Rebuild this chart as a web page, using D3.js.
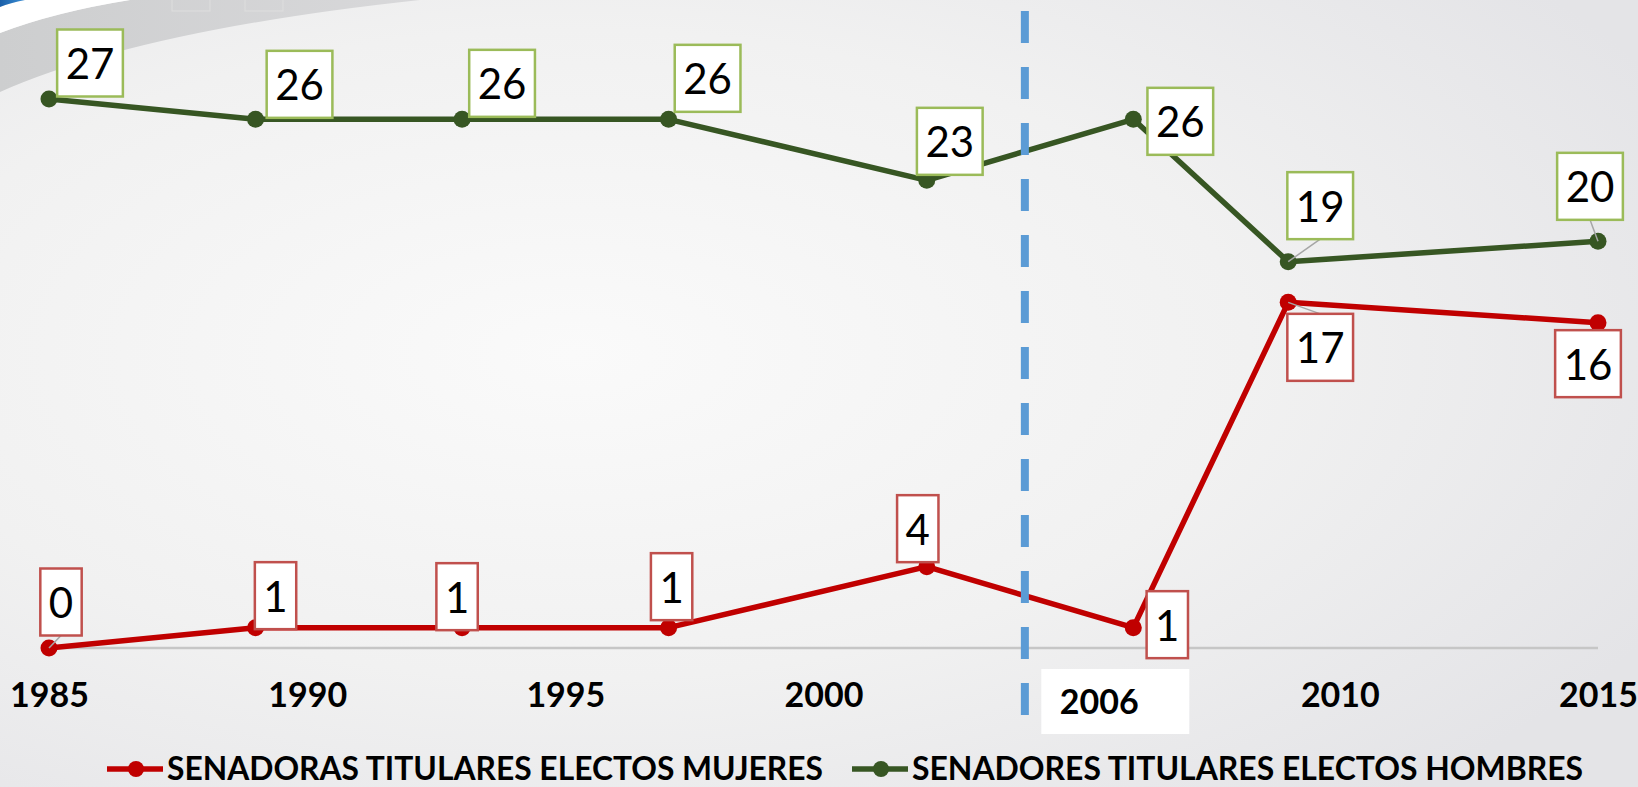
<!DOCTYPE html>
<html>
<head>
<meta charset="utf-8">
<script src="https://cdn.jsdelivr.net/npm/d3@7"></script>
<style>
  body { margin: 0; background: #f2f2f2; }
  svg { display: block; font-family: Lato, "Open Sans", sans-serif; }
</style>
</head>
<body>
<svg id="chart" width="1638" height="787"></svg>
<script>
// data
const years = [1985, 1989, 1993, 1997, 2002, 2006, 2009, 2015];
const mujeres = [0, 1, 1, 1, 4, 1, 17, 16];
const hombres = [27, 26, 26, 26, 23, 26, 19, 20];
const tickYears = [1985, 1990, 1995, 2000, 2010, 2015];
const markedYear = 2006;
const dividerYear = 2003.9;
const seriesNames = ["SENADORAS TITULARES ELECTOS MUJERES", "SENADORES TITULARES ELECTOS HOMBRES"];

// where each data label box sits, relative to its point
const mujeresLabelOffsets = [[12, -46], [20, -32], [-5, -31], [3, -41], [-9, -38], [34, -3], [32, 45], [-10, 41]];
const hombresLabelOffsets = [[41, -36], [44, -35], [40, -36], [39, -41], [23, -39], [47, 2], [32, -56], [-8, -55]];

const svg = d3.select("#chart"),
    width = +svg.attr("width"),
    height = +svg.attr("height");

const x = d3.scaleLinear().domain([1985, 2015]).range([49, 1598]);
const y = d3.scaleLinear().domain([0, 27]).range([648, 99]);

// background
const defs = svg.append("defs");
const bg = defs.append("radialGradient").attr("id", "bg")
    .attr("cx", "35%").attr("cy", "45%").attr("r", "75%");
bg.append("stop").attr("offset", "0%").attr("stop-color", "#fafafa");
bg.append("stop").attr("offset", "55%").attr("stop-color", "#f1f1f1");
bg.append("stop").attr("offset", "100%").attr("stop-color", "#e4e4e7");

const band = defs.append("linearGradient").attr("id", "band")
    .attr("x1", "0%").attr("y1", "0%").attr("x2", "100%").attr("y2", "0%");
band.append("stop").attr("offset", "0%").attr("stop-color", "#cdcecf");
band.append("stop").attr("offset", "100%").attr("stop-color", "#d8d8da");

const blue = defs.append("linearGradient").attr("id", "blue")
    .attr("x1", "0%").attr("y1", "0%").attr("x2", "100%").attr("y2", "0%");
blue.append("stop").attr("offset", "0%").attr("stop-color", "#1b5fa8");
blue.append("stop").attr("offset", "100%").attr("stop-color", "#3a8fd6");

svg.append("rect").attr("width", width).attr("height", height).attr("fill", "url(#bg)");

// top-left swoosh of the slide template
svg.append("path").attr("d", "M0,33 Q55,12 130,0 H420 Q140,30 0,92 Z").attr("fill", "url(#band)");
svg.append("path").attr("d", "M0,7 Q10,3 25,0 H130 Q55,12 0,33 Z").attr("fill", "#ffffff");
svg.append("path").attr("d", "M0,0 H25 Q10,3 0,7 Z").attr("fill", "url(#blue)");
svg.append("g").selectAll("rect")
    .data([172, 245])
    .enter().append("rect")
    .attr("x", d => d).attr("y", -2)
    .attr("width", 38).attr("height", 13)
    .attr("fill", "none").attr("stroke", "#dedede").attr("stroke-width", 1);

// baseline
svg.append("line")
    .attr("x1", x(1985)).attr("x2", x(2015))
    .attr("y1", y(0)).attr("y2", y(0))
    .attr("stroke", "#c6c6c6").attr("stroke-width", 2.5);

// x axis labels
const xAxis = svg.append("g")
    .attr("transform", `translate(0,${y(0)})`)
    .call(d3.axisBottom(x).tickValues(tickYears).tickFormat(d3.format("d")).tickSize(0));
xAxis.select(".domain").remove();
xAxis.selectAll("text")
    .attr("y", 59).attr("dy", null)
    .style("font-family", "Lato, sans-serif")
    .style("font-size", "34px")
    .style("font-weight", 700)
    .attr("fill", "#000");

// 2006 label in its white box
const marked = svg.append("g");
marked.append("rect")
    .attr("x", x(markedYear) - 92).attr("y", 669)
    .attr("width", 148).attr("height", 65)
    .attr("fill", "#ffffff");
marked.append("text")
    .attr("x", x(markedYear) - 34).attr("y", 714)
    .attr("text-anchor", "middle")
    .style("font-size", "34px").style("font-weight", 700)
    .text(String(markedYear));

const series = [
    { name: seriesNames[0], values: mujeres, color: "#c00000", border: "#c0504d", offsets: mujeresLabelOffsets },
    { name: seriesNames[1], values: hombres, color: "#375623", border: "#9bbb59", offsets: hombresLabelOffsets }
];

const line = d3.line()
    .x((d, i) => x(years[i]))
    .y(d => y(d));

const r = 8.5;

series.forEach(s => {
    svg.append("path")
        .datum(s.values)
        .attr("d", line)
        .attr("fill", "none")
        .attr("stroke", s.color)
        .attr("stroke-width", 5.5)
        .attr("stroke-linejoin", "round");

    svg.append("g")
        .selectAll("circle")
        .data(s.values)
        .enter()
        .append("circle")
        .attr("cx", (d, i) => x(years[i]))
        .attr("cy", d => y(d))
        .attr("r", r)
        .attr("fill", s.color);
});

// dashed divider, on top of the lines
svg.append("line")
    .attr("x1", x(dividerYear)).attr("x2", x(dividerYear))
    .attr("y1", 11).attr("y2", 715)
    .attr("stroke", "#5b9bd5")
    .attr("stroke-width", 8)
    .attr("stroke-dasharray", "32,24");

// data labels
series.forEach(s => {
    s.values.forEach((v, i) => {
        const px = x(years[i]), py = y(v);
        const cx = px + s.offsets[i][0], cy = py + s.offsets[i][1];
        const g = svg.append("g");
        const leader = g.append("line");
        const box = g.append("rect");
        const t = g.append("text")
            .attr("x", cx).attr("y", cy + 16)
            .attr("text-anchor", "middle")
            .style("font-size", "42px")
            .attr("fill", "#000")
            .text(v);
        const w = t.node().getComputedTextLength() + 17, h = 67;
        box.attr("x", cx - w / 2).attr("y", cy - h / 2)
            .attr("width", w).attr("height", h)
            .attr("fill", "#ffffff")
            .attr("stroke", s.border)
            .attr("stroke-width", 2.5);
        // leader line when the box stands off the point
        const top = cy - h / 2, bottom = cy + h / 2;
        let ey = null;
        if (py - bottom > r) ey = bottom;
        else if (top - py > r) ey = top;
        if (ey !== null) {
            leader.attr("x1", cx).attr("y1", ey)
                .attr("x2", px).attr("y2", py)
                .attr("stroke", "#a6a6a6").attr("stroke-width", 1.5);
        } else {
            leader.remove();
        }
    });
});

// legend
const legendX = [107, 852];
const legendLen = [656, 671];
series.forEach((s, i) => {
    const g = svg.append("g").attr("transform", `translate(${legendX[i]},0)`);
    g.append("line")
        .attr("x1", 0).attr("x2", 56)
        .attr("y1", 769).attr("y2", 769)
        .attr("stroke", s.color).attr("stroke-width", 5.5);
    g.append("circle")
        .attr("cx", 29).attr("cy", 769).attr("r", 8)
        .attr("fill", s.color);
    g.append("text")
        .attr("x", 60).attr("y", 780)
        .attr("textLength", legendLen[i])
        .attr("lengthAdjust", "spacingAndGlyphs")
        .style("font-size", "32px").style("font-weight", 700)
        .attr("fill", "#000")
        .text(s.name);
});
</script>
</body>
</html>
